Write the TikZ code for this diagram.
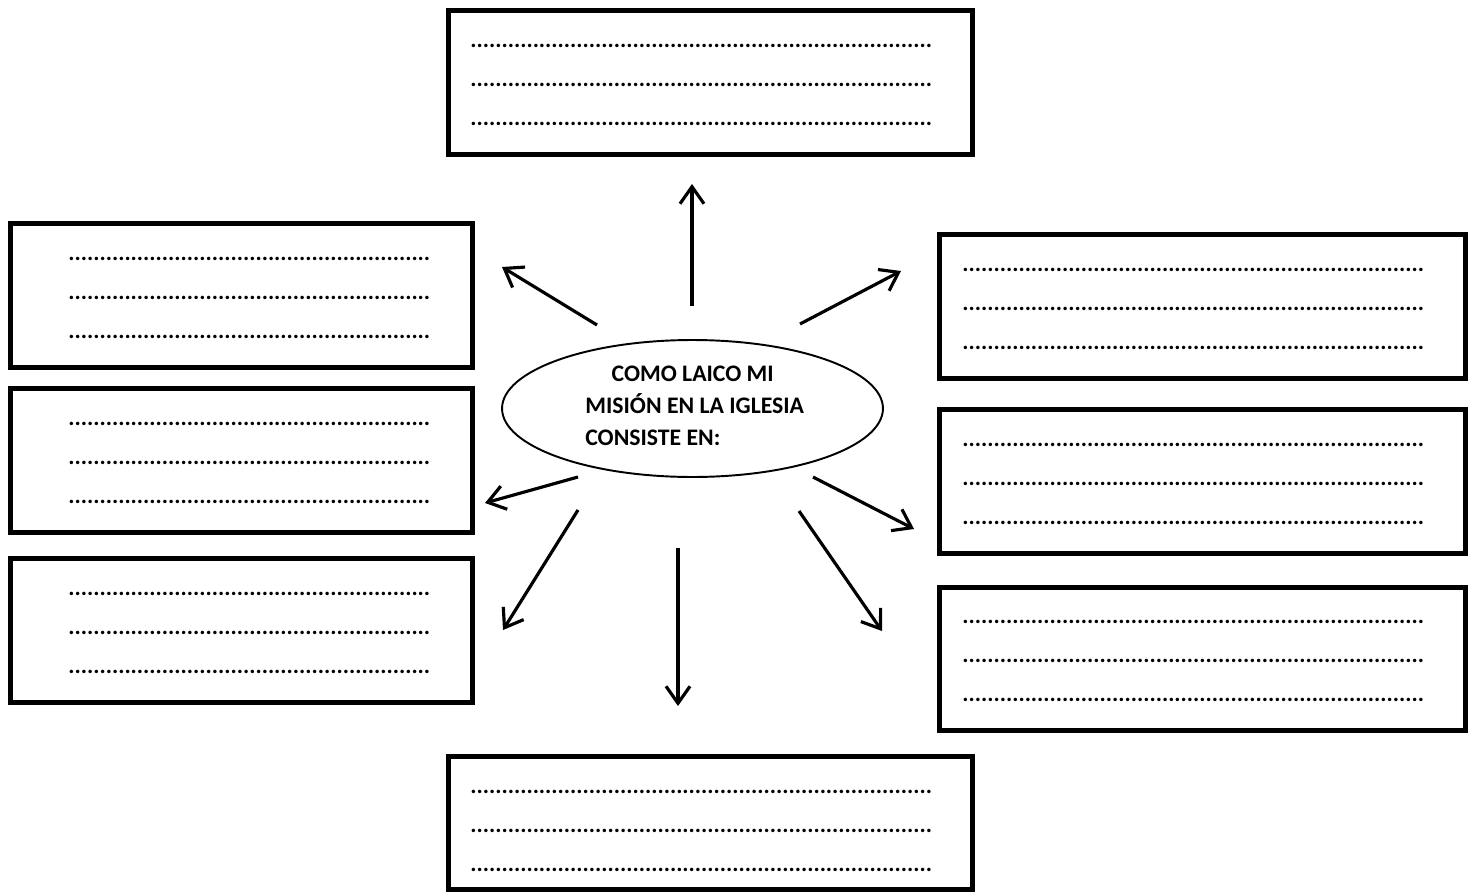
\documentclass[tikz,border=0pt]{standalone}
\usepackage{fontspec}
\setmainfont{Carlito}
\usetikzlibrary{shapes.geometric,arrows.meta}
\newcommand\renglon[1]{\makebox[#1]{\leaders\hbox{.}\hfill}}
\newcommand\renglones[1]{\renglon{#1}\\\renglon{#1}\\\renglon{#1}}
\tikzset{
  caja/.style={draw,line width=2.8pt,inner sep=0pt},
  puntos/.style={anchor=west,inner sep=0pt,align=left,font=\bfseries\fontsize{13.3}{22.2}\selectfont},
  flecha/.style={line width=1.8pt,-{Straight Barb[length=3.4mm,width=4.8mm]}},
}
\begin{document}
\begin{tikzpicture}[x=0.02cm,y=-0.02cm]
\fill[white] (0,0) rectangle (1476,895);
\node[caja,minimum width=10.48cm,minimum height=2.88cm] (arriba) at (710.5,82.5) {};
\node[caja,minimum width=9.24cm,minimum height=2.88cm] (izq1) at (241.5,295.5) {};
\node[caja,minimum width=9.24cm,minimum height=2.88cm] (izq2) at (241.5,460.5) {};
\node[caja,minimum width=9.24cm,minimum height=2.88cm] (izq3) at (241.5,630.5) {};
\node[caja,minimum width=10.52cm,minimum height=2.88cm] (der1) at (1202.5,306.5) {};
\node[caja,minimum width=10.52cm,minimum height=2.88cm] (der2) at (1202.5,481.5) {};
\node[caja,minimum width=10.52cm,minimum height=2.86cm] (der3) at (1202.5,659) {};
\node[caja,minimum width=10.48cm,minimum height=2.66cm] (abajo) at (710.5,823) {};
\node[puntos] (parriba) at (470,85) {\renglones{9.24cm}};
\node[puntos] (pizq1) at (68,298) {\renglones{7.28cm}};
\node[puntos] (pizq2) at (68,463) {\renglones{7.28cm}};
\node[puntos] (pizq3) at (68,633) {\renglones{7.28cm}};
\node[puntos] (pder1) at (962,309) {\renglones{9.26cm}};
\node[puntos] (pder2) at (962,484) {\renglones{9.26cm}};
\node[puntos] (pder3) at (962,661) {\renglones{9.26cm}};
\node[puntos] (pabajo) at (470,831) {\renglones{9.24cm}};
\node[ellipse,draw,line width=1.1pt,minimum width=7.62cm,minimum height=2.74cm,inner sep=0pt] (mision) at (692.5,408.5) {};
\node[anchor=west,inner sep=0pt,align=left,font=\bfseries\fontsize{13.5}{18.2}\selectfont] (lema) at (585,405.5) {\hspace*{15pt}COMO LAICO MI\\MISIÓN EN LA IGLESIA\\CONSISTE EN:};
\coordinate (a1) at (692,306); \coordinate (a2) at (692,184);
\coordinate (b1) at (597,325); \coordinate (b2) at (502,267);
\coordinate (c1) at (800,324); \coordinate (c2) at (901,271);
\coordinate (d1) at (578,477); \coordinate (d2) at (485,503);
\coordinate (e1) at (578,510); \coordinate (e2) at (503,630);
\coordinate (f1) at (678,548); \coordinate (f2) at (678,706);
\coordinate (g1) at (813,477); \coordinate (g2) at (914,529);
\coordinate (h1) at (799,511); \coordinate (h2) at (882,631);
\draw[flecha] (a1) -- (a2);
\draw[flecha] (b1) -- (b2);
\draw[flecha] (c1) -- (c2);
\draw[flecha] (d1) -- (d2);
\draw[flecha] (e1) -- (e2);
\draw[flecha] (f1) -- (f2);
\draw[flecha] (g1) -- (g2);
\draw[flecha] (h1) -- (h2);
\end{tikzpicture}
\end{document}
